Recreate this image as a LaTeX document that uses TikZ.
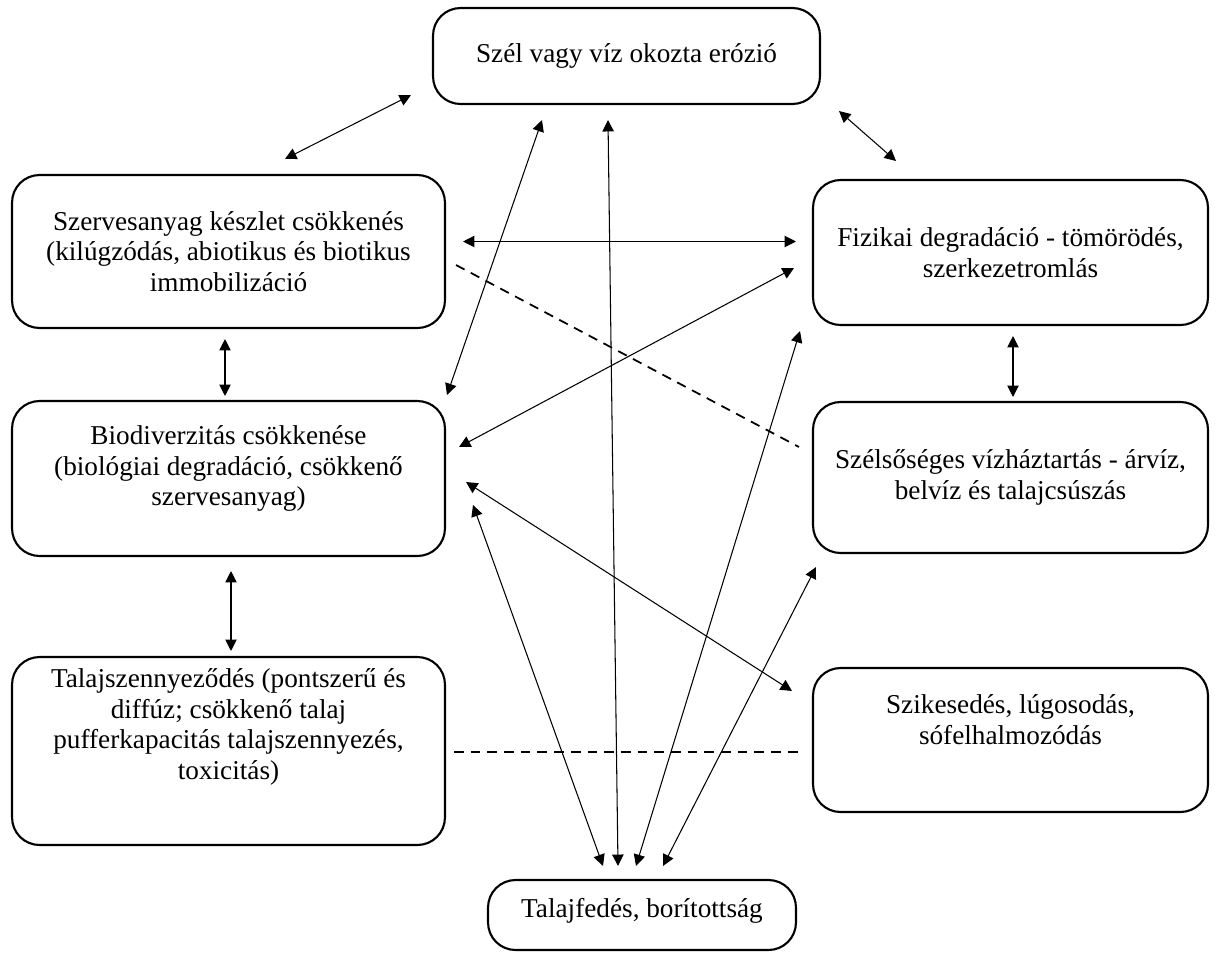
\documentclass[tikz,border=0pt]{standalone}
\usepackage{fontspec}
\setmainfont{Liberation Serif}
\usetikzlibrary{arrows.meta}
\tikzset{
    box/.style={
    rectangle,rounded corners=0.55cm,draw=black,line width=1.2pt
    },
    boxtext/.style={
    align=center,font=\fontsize{15.5}{17.5}\selectfont
    },
    link/.style={
    <->,>={Triangle[length=6.5pt,width=6.5pt]},line width=0.6pt
    },
    dlink/.style={
    dash pattern=on 5.5pt off 4pt,line width=1pt
    },
}
\begin{document}
\begin{tikzpicture}[x=0.02cm,y=-0.02cm]
   \useasboundingbox (0,0) rectangle (1216,957);

   %boxes
   \node[box,minimum width=7.74cm,minimum height=1.92cm] (ero) at (626.5,56) {};
   \node[box,minimum width=8.66cm,minimum height=3.06cm] (szerv) at (228.5,251.5) {};
   \node[box,minimum width=7.9cm,minimum height=2.9cm] (fiz) at (1010.5,252.5) {};
   \node[box,minimum width=8.66cm,minimum height=3.1cm] (biod) at (228.5,478.5) {};
   \node[box,minimum width=7.9cm,minimum height=3.02cm] (szels) at (1010.5,477.5) {};
   \node[box,minimum width=8.66cm,minimum height=3.76cm] (szenny) at (228.5,751) {};
   \node[box,minimum width=7.9cm,minimum height=2.88cm] (szik) at (1010.5,740) {};
   \node[box,minimum width=6.16cm,minimum height=1.4cm] (fed) at (642,915) {};

   %texts
   \node[boxtext] (erot) at (ero) {Szél vagy víz okozta erózió};
   \node[boxtext] (szervt) at (szerv) {Szervesanyag készlet csökkenés\\(kilúgzódás, abiotikus és biotikus\\immobilizáció};
   \node[boxtext] (fizt) at (fiz) {Fizikai degradáció - tömörödés,\\szerkezetromlás};
   \node[boxtext] (biodt) at ([shift={(0,-10)}]biod.center) {Biodiverzitás csökkenése\\(biológiai degradáció, csökkenő\\szervesanyag)};
   \node[boxtext] (szelst) at (szels) {Szélsőséges vízháztartás - árvíz,\\belvíz és talajcsúszás};
   \node[boxtext] (szennyt) at ([shift={(0,-24)}]szenny.center) {Talajszennyeződés (pontszerű és\\diffúz; csökkenő talaj\\pufferkapacitás talajszennyezés,\\toxicitás)};
   \node[boxtext] (szikt) at ([shift={(0,-20)}]szik.center) {Szikesedés, lúgosodás,\\sófelhalmozódás};
   \node[boxtext] (fedt) at ([shift={(0,-4)}]fed.center) {Talajfedés, borítottság};

  \path[link]
    %erosion
    ([shift={(-21,-10)}]ero.south west) edge ([shift={(56.5,-15)}]szerv.north)
    ([shift={(18,6)}]ero.south east) edge ([shift={(84,-18)}]fiz.north west)
    ([shift={(-84.5,15)}]ero.south) edge ([shift={(1,-5)}]biod.north east)
    ([shift={(-18.5,15)}]ero.south) edge ([shift={(-24,-13)}]fed.north)

    %left column
    ([shift={(-3.5,10)}]szerv.south) edge ([shift={(-3.5,-4)}]biod.north)
    ([shift={(2.5,14)}]biod.south) edge ([shift={(2.5,-5)}]szenny.north)
    ([shift={(17,-10)}]szerv.east) edge ([shift={(-16,-11)}]fiz.west)

    %right column
    ([shift={(2.5,10)}]fiz.south) edge ([shift={(2.5,-4)}]szels.north)
    ([shift={(-18,15.5)}]fiz.west) edge ([shift={(13,-31.5)}]biod.east)

    %biodiversity
    ([shift={(20,3.5)}]biod.east) edge ([shift={(-20,24)}]szik.north west)
    ([shift={(27,26.5)}]biod.east) edge ([shift={(-39,-13)}]fed.north)

    %soil cover
    ([shift={(-12,5)}]fiz.south west) edge ([shift={(-6,-13)}]fed.north)
    ([shift={(4,13)}]szels.south west) edge ([shift={(21,-13)}]fed.north);

  \draw[dlink] ([shift={(10,13.5)}]szerv.east) -- ([shift={(-13,-30.5)}]szels.west);
  \draw[dlink] ([shift={(8,1)}]szenny.east) -- ([shift={(-8,12)}]szik.west);
\end{tikzpicture}
\end{document}
